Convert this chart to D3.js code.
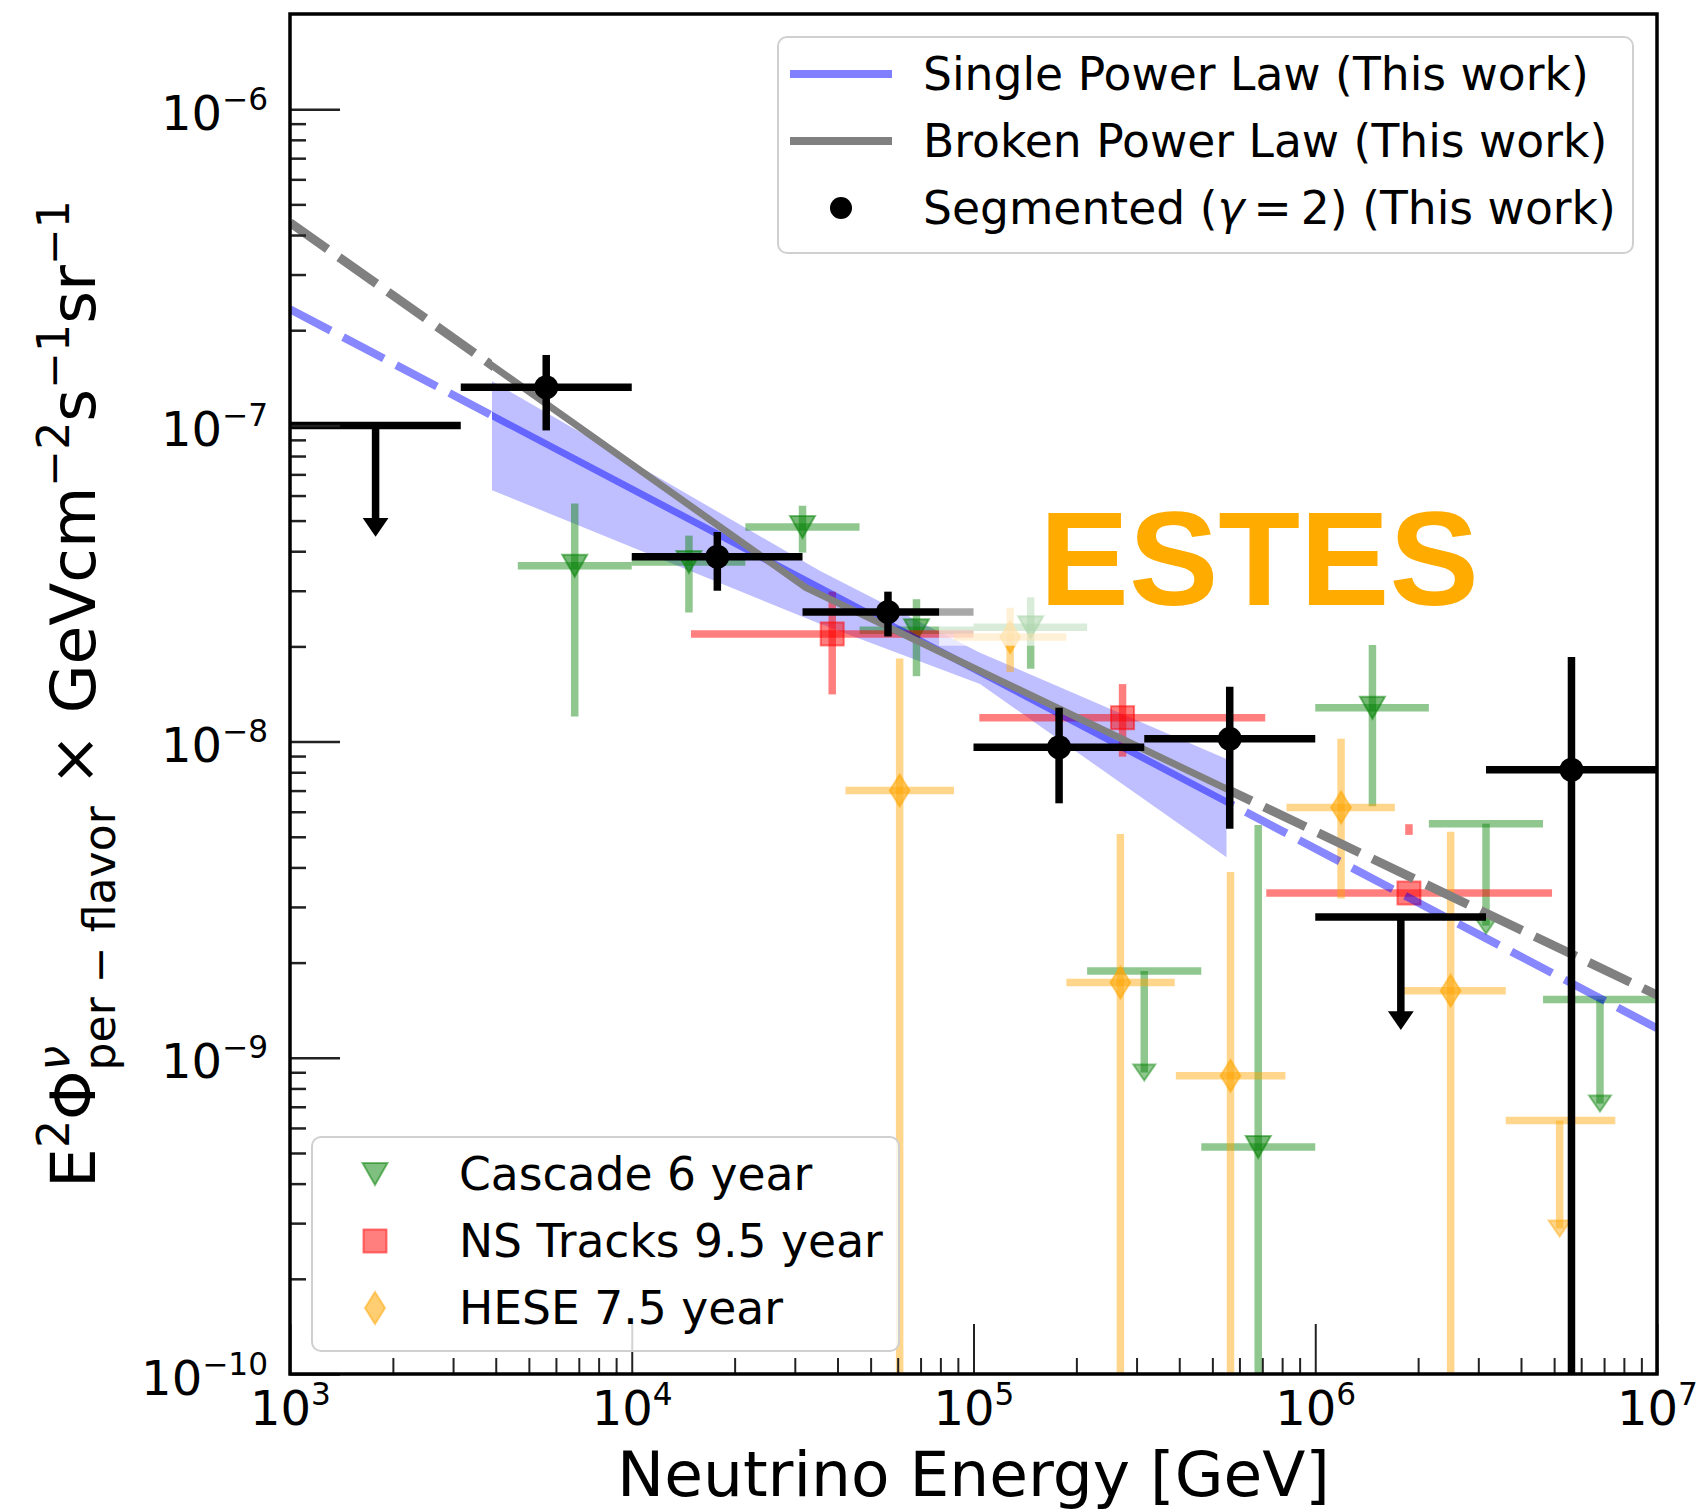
<!DOCTYPE html>
<html>
<head>
<meta charset="utf-8">
<script src="https://cdn.jsdelivr.net/npm/d3@7"></script>
<style>
  html, body { margin: 0; padding: 0; background: #fff; }
  svg { display: block; font-family: "DejaVu Sans", sans-serif; }
</style>
</head>
<body>
<div class="chart"></div>
<script>
// ---- data ----
const xTicks = [1e3, 1e4, 1e5, 1e6, 1e7];
const yTicks = [1e-10, 1e-9, 1e-8, 1e-7, 1e-6];

// fits (This work)
const splEnergy = [1e3, 1e7];
const splFlux = [2.33e-7, 1.24e-9];
const bplEnergy = [1e3, 3.23e4, 1e7];
const bplFlux = [4.38e-7, 3.07e-8, 1.58e-9];
const fitRange = [3.9e3, 5.5e5];
const bandEnergy = [3.9e3, 3.55e4, 1.045e5, 5.5e5];
const bandUpper = [1.38e-7, 3.47e-8, 1.91e-8, 8.81e-9];
const bandLower = [6.24e-8, 2.36e-8, 1.52e-8, 4.31e-9];

// segmented, gamma = 2 (This work)
const segEnergy   = [5.62e3, 1.78e4, 5.62e4, 1.78e5, 5.62e5, 5.62e6];
const segEnergyLo = [3.16e3, 1e4, 3.16e4, 1e5, 3.16e5, 3.16e6];
const segEnergyHi = [1e4, 3.16e4, 1e5, 3.16e5, 1e6, 1e7];
const segFlux     = [1.32e-7, 3.84e-8, 2.57e-8, 9.6e-9, 1.02e-8, 8.15e-9];
const segFluxHi   = [1.67e-7, 4.6e-8, 2.98e-8, 1.28e-8, 1.49e-8, 1.85e-8];
const segFluxLo   = [9.64e-8, 3.0e-8, 2.15e-8, 6.38e-9, 5.3e-9, 1e-11];
const segUlEnergy   = [1.78e3, 1.78e6];
const segUlEnergyLo = [1e3, 1e6];
const segUlEnergyHi = [3.16e3, 3.16e6];
const segUlFlux     = [1e-7, 2.79e-9];
const segUlTip      = [4.5e-8, 1.24e-9];

// Cascade 6 year
const casEnergy   = [6.81e3, 1.47e4, 3.16e4, 6.81e4, 1.47e5, 6.81e5, 1.47e6];
const casEnergyLo = [4.64e3, 1e4, 2.15e4, 4.64e4, 1e5, 4.64e5, 1e6];
const casEnergyHi = [1e4, 2.15e4, 4.64e4, 1e5, 2.15e5, 1e6, 2.15e6];
const casFlux     = [3.6e-8, 3.7e-8, 4.77e-8, 2.25e-8, 2.3e-8, 5.22e-10, 1.28e-8];
const casFluxHi   = [5.66e-8, 4.48e-8, 5.57e-8, 2.82e-8, 2.86e-8, 5.45e-9, 2.02e-8];
const casFluxLo   = [1.2e-8, 2.56e-8, 3.96e-8, 1.61e-8, 1.7e-8, 1e-11, 6.24e-9];
const casUlEnergy   = [3.16e5, 3.16e6, 6.81e6];
const casUlEnergyLo = [2.15e5, 2.15e6, 4.64e6];
const casUlEnergyHi = [4.64e5, 4.64e6, 1e7];
const casUlFlux     = [1.88e-9, 5.5e-9, 1.53e-9];
const casUlTip      = [8.47e-10, 2.47e-9, 6.76e-10];

// NS Tracks 9.5 year
const nsEnergy   = [3.86e4, 2.73e5, 1.88e6];
const nsEnergyLo = [1.49e4, 1.04e5, 7.19e5];
const nsEnergyHi = [1e5, 7.14e5, 4.93e6];
const nsFlux     = [2.19e-8, 1.19e-8, 3.32e-9];
const nsFluxHi   = [2.98e-8, 1.52e-8, 3.32e-9];
const nsFluxLo   = [1.41e-8, 8.96e-9, 3.32e-9];
const nsStray    = [[1.88e6, 5.07e-9, 5.48e-9]];

// HESE 7.5 year
const heEnergy   = [6.08e4, 1.28e5, 2.69e5, 5.65e5, 1.19e6, 2.49e6];
const heEnergyLo = [4.22e4, 8.77e4, 1.87e5, 3.91e5, 8.24e5, 1.82e6];
const heEnergyHi = [8.77e4, 1.87e5, 3.88e5, 8.18e5, 1.71e6, 3.61e6];
const heFlux     = [7.0e-9, 2.14e-8, 1.73e-9, 8.77e-10, 6.19e-9, 1.63e-9];
const heFluxHi   = [1.83e-8, 2.65e-8, 5.1e-9, 3.87e-9, 1.02e-8, 5.19e-9];
const heFluxLo   = [1e-11, 1.66e-8, 1e-11, 1e-11, 3.19e-9, 1e-11];
const heUlEnergy   = [5.19e6];
const heUlEnergyLo = [3.61e6];
const heUlEnergyHi = [7.55e6];
const heUlFlux     = [6.34e-10];
const heUlTip      = [2.72e-10];

// washed-out patch in the source image (energy and flux bounds)
const patchEnergy = [7.93e4, 2.19e5];
const patchFlux = [2.89e-8, 2.01e-8];

const legendFits = ["Single Power Law (This work)", "Broken Power Law (This work)"];
const legendData = ["Cascade 6 year", "NS Tracks 9.5 year", "HESE 7.5 year"];
const annotation = {text: "ESTES", energy: 1.56e5, flux: 2.70e-8};

// ---- layout ----
const width = 1696, height = 1510;
const margin = {top: 14, right: 39, bottom: 136, left: 290};
const pw = width - margin.left - margin.right;
const ph = height - margin.top - margin.bottom;

const x = d3.scaleLog().domain([1e3, 1e7]).range([margin.left, width - margin.right]);
const y = d3.scaleLog().domain([1e-10, 2e-6]).range([height - margin.bottom, margin.top]);

const rows = (e, lo, hi, f, fhi, flo) => e.map((v, i) => ({e: v, lo: lo[i], hi: hi[i], f: f[i], fhi: fhi[i], flo: flo[i]}));
const ulRows = (e, lo, hi, f, tip) => e.map((v, i) => ({e: v, lo: lo[i], hi: hi[i], f: f[i], tip: tip[i]}));

const svg = d3.select('.chart').append('svg')
  .attr('width', width).attr('height', height);

const defs = svg.append('defs');
defs.append('clipPath').attr('id', 'plot-clip').append('rect')
  .attr('x', margin.left).attr('y', margin.top).attr('width', pw).attr('height', ph);
defs.append('clipPath').attr('id', 'fit-mid').append('rect')
  .attr('x', x(fitRange[0])).attr('y', margin.top)
  .attr('width', x(fitRange[1]) - x(fitRange[0])).attr('height', ph);
const outClip = defs.append('clipPath').attr('id', 'fit-out');
outClip.append('rect').attr('x', margin.left).attr('y', margin.top)
  .attr('width', x(fitRange[0]) - margin.left).attr('height', ph);
outClip.append('rect').attr('x', x(fitRange[1])).attr('y', margin.top)
  .attr('width', width - margin.right - x(fitRange[1])).attr('height', ph);

const plot = svg.append('g').attr('clip-path', 'url(#plot-clip)');

// band
const band = d3.area()
  .x(d => x(d[0])).y0(d => y(d[1])).y1(d => y(d[2]));
plot.append('path')
  .datum(d3.zip(bandEnergy, bandLower, bandUpper))
  .attr('d', band)
  .attr('fill', '#0000ff').attr('fill-opacity', 0.25);

// error bars
const lw = 7.5;
const tri = 'M-12.5,-11L12.5,-11L0,11Z';
const diamond = 'M0,-16L10,0L0,16L-10,0Z';
const arrow = 'M-11,-16L11,-16L0,0Z';

function errorbars(g, data, color, op) {
  g.selectAll('line.h').data(data).join('line').attr('class', 'h')
    .attr('x1', d => x(d.lo)).attr('x2', d => x(d.hi))
    .attr('y1', d => y(d.f)).attr('y2', d => y(d.f));
  g.selectAll('line.v').data(data.filter(d => d.fhi !== d.flo)).join('line').attr('class', 'v')
    .attr('x1', d => x(d.e)).attr('x2', d => x(d.e))
    .attr('y1', d => y(d.fhi)).attr('y2', d => y(d.flo));
  g.selectAll('line').attr('stroke', color).attr('stroke-width', lw).attr('stroke-opacity', op);
}
function upperLimits(g, data, color, op) {
  g.selectAll('line.h').data(data).join('line').attr('class', 'h')
    .attr('x1', d => x(d.lo)).attr('x2', d => x(d.hi))
    .attr('y1', d => y(d.f)).attr('y2', d => y(d.f));
  g.selectAll('line.v').data(data).join('line').attr('class', 'v')
    .attr('x1', d => x(d.e)).attr('x2', d => x(d.e))
    .attr('y1', d => y(d.f)).attr('y2', d => y(d.tip) - 8);
  g.selectAll('line').attr('stroke', color).attr('stroke-width', lw).attr('stroke-opacity', op);
  g.selectAll('path.arrow').data(data).join('path').attr('class', 'arrow')
    .attr('d', arrow)
    .attr('transform', d => `translate(${x(d.e)},${y(d.tip)})`)
    .attr('fill', color).attr('fill-opacity', op)
    .attr('stroke', color).attr('stroke-opacity', op).attr('stroke-width', 2);
}

// Cascade
const gCas = plot.append('g');
errorbars(gCas.append('g'), rows(casEnergy, casEnergyLo, casEnergyHi, casFlux, casFluxHi, casFluxLo), '#008000', 0.44);
upperLimits(gCas.append('g'), ulRows(casUlEnergy, casUlEnergyLo, casUlEnergyHi, casUlFlux, casUlTip), '#008000', 0.44);
gCas.append('g').selectAll('path').data(casEnergy.map((e, i) => [e, casFlux[i]])).join('path')
  .attr('d', tri).attr('transform', d => `translate(${x(d[0])},${y(d[1])})`)
  .attr('fill', '#008000').attr('fill-opacity', 0.55)
  .attr('stroke', '#008000').attr('stroke-opacity', 0.5).attr('stroke-width', 2);

// NS tracks
const gNs = plot.append('g');
errorbars(gNs.append('g'), rows(nsEnergy, nsEnergyLo, nsEnergyHi, nsFlux, nsFluxHi, nsFluxLo), '#ff0000', 0.5);
gNs.append('g').selectAll('line').data(nsStray).join('line')
  .attr('x1', d => x(d[0])).attr('x2', d => x(d[0]))
  .attr('y1', d => y(d[2])).attr('y2', d => y(d[1]))
  .attr('stroke', '#ff0000').attr('stroke-opacity', 0.5).attr('stroke-width', lw);
gNs.append('g').selectAll('rect').data(nsEnergy.map((e, i) => [e, nsFlux[i]])).join('rect')
  .attr('x', d => x(d[0]) - 11.5).attr('y', d => y(d[1]) - 11.5)
  .attr('width', 23).attr('height', 23)
  .attr('fill', '#ff0000').attr('fill-opacity', 0.5)
  .attr('stroke', '#ff0000').attr('stroke-opacity', 0.5).attr('stroke-width', 2);

// HESE
const gHe = plot.append('g');
errorbars(gHe.append('g'), rows(heEnergy, heEnergyLo, heEnergyHi, heFlux, heFluxHi, heFluxLo), '#ffa500', 0.45);
upperLimits(gHe.append('g'), ulRows(heUlEnergy, heUlEnergyLo, heUlEnergyHi, heUlFlux, heUlTip), '#ffa500', 0.45);
gHe.append('g').selectAll('path').data(heEnergy.map((e, i) => [e, heFlux[i]])).join('path')
  .attr('d', diamond).attr('transform', d => `translate(${x(d[0])},${y(d[1])})`)
  .attr('fill', '#ffa500').attr('fill-opacity', 0.6)
  .attr('stroke', '#ffa500').attr('stroke-opacity', 0.5).attr('stroke-width', 2);

// fit lines
const line = d3.line().x(d => x(d[0])).y(d => y(d[1]));
const fits = [
  {pts: d3.zip(splEnergy, splFlux), color: '#0000ff', op: 0.47, dashW: 8},
  {pts: d3.zip(bplEnergy, bplFlux), color: '#808080', op: 1, dashW: 9}
];
fits.forEach(f => {
  plot.append('path').datum(f.pts).attr('d', line)
    .attr('clip-path', 'url(#fit-out)')
    .attr('fill', 'none').attr('stroke', f.color).attr('stroke-opacity', f.op)
    .attr('stroke-width', f.dashW).attr('stroke-dasharray', '46,14');
  plot.append('path').datum(f.pts).attr('d', line)
    .attr('clip-path', 'url(#fit-mid)')
    .attr('fill', 'none').attr('stroke', f.color).attr('stroke-opacity', f.op)
    .attr('stroke-width', 7);
});

// segmented (black)
const gSeg = plot.append('g');
errorbars(gSeg.append('g'), rows(segEnergy, segEnergyLo, segEnergyHi, segFlux, segFluxHi, segFluxLo), '#000', 1);
upperLimits(gSeg.append('g'), ulRows(segUlEnergy, segUlEnergyLo, segUlEnergyHi, segUlFlux, segUlTip), '#000', 1);
gSeg.append('g').selectAll('circle').data(segEnergy.map((e, i) => [e, segFlux[i]])).join('circle')
  .attr('cx', d => x(d[0])).attr('cy', d => y(d[1])).attr('r', 12).attr('fill', '#000');

// washed-out patch
plot.append('rect')
  .attr('x', x(patchEnergy[0])).attr('y', y(patchFlux[0]))
  .attr('width', x(patchEnergy[1]) - x(patchEnergy[0]))
  .attr('height', y(patchFlux[1]) - y(patchFlux[0]))
  .attr('fill', '#fff').attr('fill-opacity', 0.66);

// annotation
svg.append('text')
  .attr('x', x(annotation.energy)).attr('y', y(annotation.flux))
  .attr('font-family', '"Liberation Sans", Arial, sans-serif')
  .attr('font-weight', 'bold').attr('font-size', 134)
  .attr('fill', '#ffab00').text(annotation.text);

// ---- axes ----
const majorLen = 50, minorLen = 16;
const minorX = d3.range(3, 7).flatMap(p => d3.range(2, 10).map(m => m * 10 ** p));
const minorY = d3.range(-10, -6).flatMap(p => d3.range(2, 10).map(m => m * 10 ** p));

function sup(text, exp, fs) {
  text.text(null);
  text.append('tspan').text('10');
  text.append('tspan').attr('dy', -0.42 * fs).attr('font-size', 0.65 * fs)
    .text(exp < 0 ? '\u2212' + (-exp) : String(exp));
}

const xAxis = g => g
  .attr('transform', `translate(0,${height - margin.bottom})`)
  .call(d3.axisBottom(x).tickValues(xTicks).tickSizeInner(-majorLen).tickSizeOuter(0).tickPadding(17))
  .call(g => g.select('.domain').remove())
  .call(g => g.selectAll('.tick line').attr('stroke', '#222').attr('stroke-width', 2))
  .call(g => g.selectAll('.tick text').attr('font-size', 48).attr('font-family', '"DejaVu Sans"')
    .attr('fill', '#000').each(function(d) { sup(d3.select(this), Math.round(Math.log10(d)), 48); }));

const yAxis = g => g
  .attr('transform', `translate(${margin.left},0)`)
  .call(d3.axisLeft(y).tickValues(yTicks).tickSizeInner(-majorLen).tickSizeOuter(0).tickPadding(22))
  .call(g => g.select('.domain').remove())
  .call(g => g.selectAll('.tick line').attr('stroke', '#222').attr('stroke-width', 2.5))
  .call(g => g.selectAll('.tick text').attr('font-size', 48).attr('font-family', '"DejaVu Sans"')
    .attr('fill', '#000').attr('dy', '0.42em')
    .each(function(d) { sup(d3.select(this), Math.round(Math.log10(d)), 48); }));

svg.append('g')
  .attr('transform', `translate(0,${height - margin.bottom})`)
  .call(d3.axisBottom(x).tickValues(minorX).tickSizeInner(-minorLen).tickSizeOuter(0).tickFormat(() => ''))
  .call(g => g.select('.domain').remove())
  .call(g => g.selectAll('.tick line').attr('stroke', '#222').attr('stroke-width', 2));
svg.append('g')
  .attr('transform', `translate(${margin.left},0)`)
  .call(d3.axisLeft(y).tickValues(minorY).tickSizeInner(-minorLen).tickSizeOuter(0).tickFormat(() => ''))
  .call(g => g.select('.domain').remove())
  .call(g => g.selectAll('.tick line').attr('stroke', '#222').attr('stroke-width', 2.5));
svg.append('g').call(xAxis);
svg.append('g').call(yAxis);

// frame
svg.append('rect')
  .attr('x', margin.left).attr('y', margin.top).attr('width', pw).attr('height', ph)
  .attr('fill', 'none').attr('stroke', '#000').attr('stroke-width', 3.5);

// axis labels
svg.append('text')
  .attr('x', margin.left + pw / 2).attr('y', 1496)
  .attr('text-anchor', 'middle').attr('font-size', 63)
  .text('Neutrino Energy [GeV]');

const yl = svg.append('text')
  .attr('transform', `translate(95,${margin.top + ph / 2}) rotate(-90)`)
  .attr('text-anchor', 'middle').attr('font-size', 63);
const s = 0.7 * 63, up = 26, down = 20;
yl.append('tspan').text('E');
yl.append('tspan').attr('dy', -up).attr('font-size', s).text('2');
yl.append('tspan').attr('dy', up).text('\u03a6');
const nu = yl.append('tspan').attr('dy', -up).attr('font-size', s).attr('font-style', 'italic').text('\u03bd');
const nuW = nu.node().getComputedTextLength ? nu.node().getComputedTextLength() : 26;
yl.append('tspan').attr('dx', -nuW).attr('dy', up + down).attr('font-size', s).text('per \u2212 flavor');
yl.append('tspan').attr('dy', -down).text(' \u00d7 GeVcm');
yl.append('tspan').attr('dy', -up).attr('font-size', s).text('\u22122');
yl.append('tspan').attr('dy', up).text('s');
yl.append('tspan').attr('dy', -up).attr('font-size', s).text('\u22121');
yl.append('tspan').attr('dy', up).text('sr');
yl.append('tspan').attr('dy', -up).attr('font-size', s).text('\u22121');

// ---- legends ----
const legFs = 45.6;
function legendBox(x0, y0, w, h) {
  svg.append('rect').attr('x', x0).attr('y', y0).attr('width', w).attr('height', h)
    .attr('rx', 9).attr('fill', '#fff').attr('fill-opacity', 0.8)
    .attr('stroke', '#d0d0d0').attr('stroke-width', 2);
}

// upper right
legendBox(778, 37, 855, 216);
const lg1 = svg.append('g');
const rowY1 = [74, 141, 208];
const fitColors = [{c: '#0000ff', op: 0.5}, {c: '#808080', op: 1}];
legendFits.forEach((t, i) => {
  lg1.append('line').attr('x1', 790).attr('x2', 892).attr('y1', rowY1[i]).attr('y2', rowY1[i])
    .attr('stroke', fitColors[i].c).attr('stroke-opacity', fitColors[i].op).attr('stroke-width', 8);
  lg1.append('text').attr('x', 923).attr('y', rowY1[i] + 16).attr('font-size', legFs).text(t);
});
lg1.append('circle').attr('cx', 841).attr('cy', rowY1[2]).attr('r', 11).attr('fill', '#000');
const segText = lg1.append('text').attr('x', 923).attr('y', rowY1[2] + 16).attr('font-size', legFs);
segText.append('tspan').text('Segmented (');
segText.append('tspan').attr('font-style', 'italic').text('\u03b3');
segText.append('tspan').text('\u2009=\u20092) (This work)');

// lower left
legendBox(312, 1137, 587, 214);
const lg2 = svg.append('g');
const rowY2 = [1174, 1241, 1308];
lg2.append('path').attr('d', tri).attr('transform', `translate(375,${rowY2[0]})`)
  .attr('fill', '#008000').attr('fill-opacity', 0.5)
  .attr('stroke', '#008000').attr('stroke-opacity', 0.5).attr('stroke-width', 2);
lg2.append('rect').attr('x', 375 - 11.5).attr('y', rowY2[1] - 11.5).attr('width', 23).attr('height', 23)
  .attr('fill', '#ff0000').attr('fill-opacity', 0.5)
  .attr('stroke', '#ff0000').attr('stroke-opacity', 0.5).attr('stroke-width', 2);
lg2.append('path').attr('d', diamond).attr('transform', `translate(375,${rowY2[2]})`)
  .attr('fill', '#ffa500').attr('fill-opacity', 0.55)
  .attr('stroke', '#ffa500').attr('stroke-opacity', 0.5).attr('stroke-width', 2);
legendData.forEach((t, i) => {
  lg2.append('text').attr('x', 459).attr('y', rowY2[i] + 16).attr('font-size', legFs).text(t);
});
</script>
</body>
</html>
